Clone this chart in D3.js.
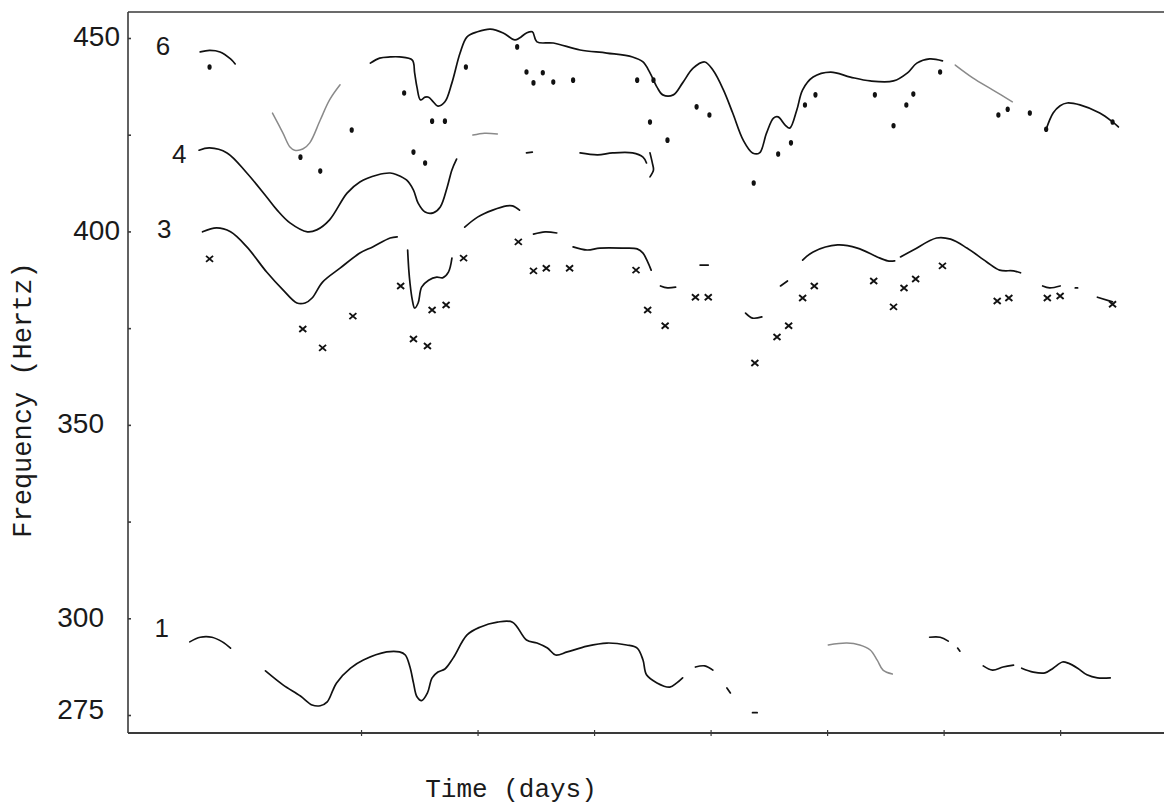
<!DOCTYPE html>
<html>
<head>
<meta charset="utf-8">
<script src="https://cdn.jsdelivr.net/npm/d3@7/dist/d3.min.js"></script>
<style>
  html, body { margin: 0; padding: 0; background: #fff; }
  svg { display: block; }
</style>
</head>
<body>
<svg id="chart" width="1164" height="805"></svg>
<script>
// ---------------- DATA (time in days, frequency in Hz) ----------------
const yTickValues = [275, 300, 325, 350, 375, 400, 425, 450];
const yTickLabels = ["275", "300", "", "350", "", "400", "", "450"];
const xTickValues = [2, 3, 4, 5, 6, 7, 8];
const harmonicNames = ["6", "4", "3", "1"];
const harmonicLabelAt = [[0.30, 447.5], [0.44, 419.5], [0.31, 400.0], [0.29, 297.0]];

// Harmonic 6 : traced pitch track segments
const h6Segments = [
  [[0.62,446.4],[0.70,446.8],[0.79,446.4],[0.88,444.6],[0.92,443.3]],
  [[1.24,430.6],[1.33,425.4],[1.39,421.8],[1.43,421.0],[1.50,421.3],[1.56,422.9],[1.65,428.8],[1.73,434.0],[1.82,437.9]],
  [[2.08,443.5],[2.16,444.8],[2.25,445.1],[2.33,445.1],[2.44,444.3],[2.46,441.0],[2.48,437.3],[2.51,434.0],[2.55,434.7],
   [2.58,434.7],[2.62,433.5],[2.66,432.4],[2.72,433.5],[2.78,438.4],[2.85,446.1],[2.91,450.3],[3.00,451.6],[3.11,452.3],
   [3.22,451.3],[3.32,449.5],[3.36,450.0],[3.42,451.3],[3.47,451.6],[3.51,449.0],[3.65,448.7],[3.88,446.9],[4.11,446.1],
   [4.33,445.1],[4.42,443.8],[4.48,441.0],[4.54,437.3],[4.59,435.3],[4.68,435.3],[4.76,438.4],[4.85,442.2],[4.95,443.8],
   [5.02,441.7],[5.11,436.6],[5.19,430.6],[5.28,423.6],[5.36,420.3],[5.42,420.3],[5.48,425.4],[5.54,429.3],[5.58,429.6],
   [5.64,427.5],[5.68,426.7],[5.74,431.4],[5.79,436.6],[5.88,439.9],[6.03,441.2],[6.20,439.9],[6.37,438.9],[6.57,438.9],
   [6.69,441.0],[6.77,443.5],[6.88,444.6],[6.99,444.1]],
  [[7.10,443.0],[7.25,439.7],[7.42,436.6],[7.59,433.5]],
  [[7.88,426.4],[7.94,430.6],[8.00,432.5],[8.06,433.2],[8.17,432.7],[8.34,430.6],[8.45,428.3],[8.50,427.0]]
];
const h6Faint = [false, true, false, true, false];
// Harmonic 6 : isolated estimates (dots)
const h6Dots = [
  [0.70,442.5],[1.48,419.2],[1.65,415.6],[1.92,426.2],[2.37,435.8],[2.45,420.5],[2.55,417.7],[2.61,428.5],[2.72,428.5],
  [2.90,442.5],[3.34,447.7],[3.42,441.2],[3.56,441.0],[3.48,438.4],[3.65,438.6],[3.82,439.1],[4.37,439.1],[4.51,439.1],
  [4.48,428.3],[4.63,423.6],[4.88,432.2],[4.99,430.1],[5.37,412.5],[5.58,420.0],[5.69,422.9],[5.81,432.7],[5.90,435.3],
  [6.41,435.3],[6.57,427.3],[6.68,432.7],[6.74,435.5],[6.97,441.2],[7.47,430.1],[7.55,431.6],[7.74,430.6],
  [7.88,426.4],[8.45,428.3]
];

// Harmonic 4
const h4Segments = [
  [[0.61,421.0],[0.70,421.6],[0.85,420.3],[1.02,415.1],[1.19,408.9],[1.28,405.5],[1.39,402.2],[1.54,399.9],[1.62,400.4],
   [1.73,403.0],[1.88,409.9],[1.99,412.8],[2.14,414.6],[2.25,415.1],[2.31,414.6],[2.39,413.3],[2.45,410.7],[2.49,407.3],
   [2.55,405.0],[2.62,404.8],[2.68,406.3],[2.74,411.5],[2.78,415.9],[2.82,418.7]],
  [[2.96,424.9],[3.06,425.4],[3.17,425.2]],
  [[3.42,420.3],[3.47,420.5]],
  [[3.88,420.3],[4.03,419.8],[4.16,420.3],[4.33,420.3],[4.42,419.2],[4.45,417.7]],
  [[4.48,420.3],[4.50,417.7],[4.51,415.9],[4.48,414.1]]
];
const h4Faint = [false, true, false, false, false];

// Harmonic 3
const h3Segments = [
  [[0.64,399.9],[0.76,400.9],[0.88,399.9],[1.02,396.0],[1.19,389.5],[1.33,384.9],[1.45,381.5],[1.52,381.5],[1.58,382.8],
   [1.67,386.9],[1.82,390.5],[1.99,394.4],[2.10,396.0],[2.25,398.3],[2.31,398.6]],
  [[2.40,395.2],[2.41,390.0],[2.42,386.7],[2.44,382.3],[2.46,380.2],[2.49,381.5],[2.52,385.6],[2.58,387.4],[2.65,388.2],
   [2.70,388.0],[2.75,389.5],[2.78,393.1]],
  [[2.89,401.1],[3.00,403.7],[3.13,405.5],[3.25,406.6],[3.30,406.6],[3.36,405.5]],
  [[3.48,399.3],[3.58,399.9],[3.68,399.6]],
  [[3.82,396.0],[3.94,395.2],[4.05,395.7],[4.25,395.7],[4.37,395.5],[4.42,394.4],[4.46,392.1],[4.49,390.0]],
  [[4.57,385.9],[4.63,385.4],[4.70,385.6]],
  [[4.91,391.3],[4.98,391.3]],
  [[5.30,378.9],[5.36,377.6],[5.44,377.9]],
  [[5.60,385.9],[5.66,387.2]],
  [[5.79,392.6],[5.88,394.7],[6.09,396.5],[6.26,395.7],[6.43,393.4],[6.52,392.4],[6.58,392.4]],
  [[6.63,393.4],[6.74,395.2],[6.94,398.3],[7.06,398.0],[7.20,395.7],[7.37,392.1],[7.48,390.0],[7.60,389.8],[7.66,389.3]],
  [[7.85,385.9],[7.91,385.4],[8.00,385.9]],
  [[8.13,385.4],[8.15,385.4]],
  [[8.32,383.0],[8.45,381.8]]
];
const h3Faint = h3Segments.map(() => false);
// Harmonic 3 : isolated estimates (crosses)
const h3Crosses = [
  [0.70,392.9],[1.50,374.8],[1.67,369.9],[1.93,378.1],[2.34,385.9],[2.45,372.2],[2.57,370.4],[2.61,379.7],[2.73,381.0],
  [2.88,393.1],[3.35,397.3],[3.48,389.8],[3.59,390.5],[3.79,390.5],[4.36,390.0],[4.46,379.7],[4.61,375.6],[4.87,383.0],
  [4.98,383.0],[5.38,366.0],[5.57,372.7],[5.67,375.6],[5.79,382.8],[5.89,385.9],[6.40,387.2],[6.57,380.5],[6.66,385.4],
  [6.76,387.7],[6.99,391.1],[7.46,382.0],[7.56,382.8],[7.89,382.8],[8.00,383.3],[8.45,381.2]
];

// Harmonic 1 (fundamental)
const h1Segments = [
  [[0.53,293.9],[0.62,295.1],[0.72,295.1],[0.81,293.9],[0.88,292.3]],
  [[1.18,286.4],[1.33,282.8],[1.48,279.9],[1.58,277.6],[1.65,277.4],[1.71,278.4],[1.76,281.5],[1.79,283.3],[1.91,287.1],
   [2.02,289.2],[2.22,291.3],[2.33,291.3],[2.38,290.5],[2.42,287.4],[2.45,283.3],[2.48,279.7],[2.52,278.7],[2.57,280.7],
   [2.61,284.6],[2.66,286.1],[2.72,286.9],[2.79,289.7],[2.91,295.7],[3.02,297.7],[3.17,299.0],[3.30,299.0],[3.42,294.4],
   [3.51,293.6],[3.60,292.3],[3.67,290.5],[3.77,291.3],[3.94,292.8],[4.11,293.6],[4.28,293.1],[4.37,292.3],[4.42,289.2],
   [4.45,285.4],[4.54,283.3],[4.65,282.2],[4.71,283.3],[4.76,284.6]],
  [[4.87,287.4],[4.95,287.7],[5.02,286.6]],
  [[5.14,282.0],[5.17,280.7]],
  [[5.36,275.6],[5.40,275.6]],
  [[6.01,293.1],[6.17,293.6],[6.28,293.1],[6.37,291.8],[6.43,289.2],[6.48,286.6],[6.56,285.6]],
  [[6.88,295.1],[6.97,295.1],[7.04,294.1]],
  [[7.12,292.3],[7.14,291.5]],
  [[7.34,287.7],[7.42,286.6],[7.51,287.4],[7.60,287.9]],
  [[7.67,287.1],[7.77,286.1],[7.87,285.9],[7.94,287.1],[8.02,288.7],[8.07,288.4],[8.15,287.1],[8.23,285.4],[8.32,284.6],[8.43,284.6]]
];
const h1Faint = [false, false, false, false, false, true, false, false, false, false];

// ---------------- LAYOUT ----------------
const frame = { left: 128, right: 1164, top: 12, bottom: 733 };
const svg = d3.select("#chart");

const x = d3.scaleLinear().domain([0, 8.9]).range([128, 1165]);
const y = d3.scaleLinear().domain([275, 450]).range([715, 38]);

const ink = "#111";
const axisInk = "#3a3a3a";

// frame lines: left, top
svg.append("line").attr("x1", frame.left).attr("x2", frame.left)
  .attr("y1", frame.top).attr("y2", frame.bottom)
  .attr("stroke", axisInk).attr("stroke-width", 1.6);
svg.append("line").attr("x1", frame.left).attr("x2", frame.right)
  .attr("y1", frame.top).attr("y2", frame.top)
  .attr("stroke", axisInk).attr("stroke-width", 1.6);

// bottom axis via d3.axisBottom
const xAxis = d3.axisBottom(x).tickValues(xTickValues).tickSize(4).tickFormat("");
const gx = svg.append("g").attr("transform", `translate(0,${frame.bottom})`).call(xAxis);
gx.select(".domain").attr("d", `M${frame.left},0H${frame.right}`)
  .attr("stroke", axisInk).attr("stroke-width", 1.8);
gx.selectAll(".tick line").attr("stroke", axisInk).attr("stroke-width", 1.2).attr("y1", -3).attr("y2", 3);

// left axis ticks (pointing inward) and hand-lettered labels
const yAxis = d3.axisRight(y).tickValues(yTickValues).tickSize(3).tickFormat("");
const gy = svg.append("g").attr("transform", `translate(${frame.left},0)`).call(yAxis);
gy.select(".domain").remove();
gy.selectAll(".tick line").attr("stroke", axisInk).attr("stroke-width", 1.6);

svg.append("g").selectAll("text")
  .data(yTickValues.map((v, i) => ({ v, label: yTickLabels[i] })).filter(d => d.label))
  .join("text")
  .attr("x", d => d.v >= 400 ? 120 : 104)
  .attr("y", d => y(d.v) + (d.v === 275 ? -3 : 1))
  .attr("text-anchor", "end")
  .attr("dominant-baseline", "middle")
  .attr("font-family", "'Liberation Sans', Arial, sans-serif")
  .attr("font-size", 28)
  .attr("fill", "#1a1a1a")
  .text(d => d.label);

// axis titles (typewriter)
svg.append("text")
  .attr("x", 511).attr("y", 797)
  .attr("text-anchor", "middle")
  .attr("font-family", "'Liberation Mono', 'DejaVu Sans Mono', monospace")
  .attr("font-size", 26)
  .attr("fill", "#1a1a1a")
  .text("Time (days)");

svg.append("text")
  .attr("transform", "translate(31,400) rotate(-90)")
  .attr("text-anchor", "middle")
  .attr("font-family", "'Liberation Mono', 'DejaVu Sans Mono', monospace")
  .attr("font-size", 27)
  .attr("fill", "#1a1a1a")
  .text("Frequency (Hertz)");

// harmonic number labels
svg.append("g").selectAll("text")
  .data(harmonicNames.map((n, i) => ({ n, p: harmonicLabelAt[i] })))
  .join("text")
  .attr("x", d => x(d.p[0]))
  .attr("y", d => y(d.p[1]))
  .attr("text-anchor", "middle")
  .attr("dominant-baseline", "middle")
  .attr("font-family", "'Liberation Sans', Arial, sans-serif")
  .attr("font-size", 26)
  .attr("fill", "#1a1a1a")
  .text(d => d.n);

// tracks
const line = d3.line().x(d => x(d[0])).y(d => y(d[1])).curve(d3.curveCatmullRom.alpha(0.5));
function drawTracks(segs, faint) {
  svg.append("g").selectAll("path")
    .data(segs.map((s, i) => ({ s, f: faint[i] })))
    .join("path")
    .attr("d", d => line(d.s))
    .attr("fill", "none")
    .attr("stroke", d => d.f ? "#8a8a8a" : ink)
    .attr("stroke-width", d => d.f ? 1.5 : 1.7)
    .attr("stroke-linecap", "round")
    .attr("stroke-linejoin", "round");
}
drawTracks(h6Segments, h6Faint);
drawTracks(h4Segments, h4Faint);
drawTracks(h3Segments, h3Faint);
drawTracks(h1Segments, h1Faint);

// dots
svg.append("g").selectAll("ellipse")
  .data(h6Dots).join("ellipse")
  .attr("cx", d => x(d[0])).attr("cy", d => y(d[1]))
  .attr("rx", 2.1).attr("ry", 2.8)
  .attr("fill", ink);

// crosses
svg.append("g").selectAll("path")
  .data(h3Crosses).join("path")
  .attr("transform", d => `translate(${x(d[0])},${y(d[1])})`)
  .attr("d", "M-3.5,-3L3.5,3M-3.5,3L3.5,-3")
  .attr("stroke", ink).attr("stroke-width", 1.9).attr("fill", "none");
</script>
</body>
</html>
